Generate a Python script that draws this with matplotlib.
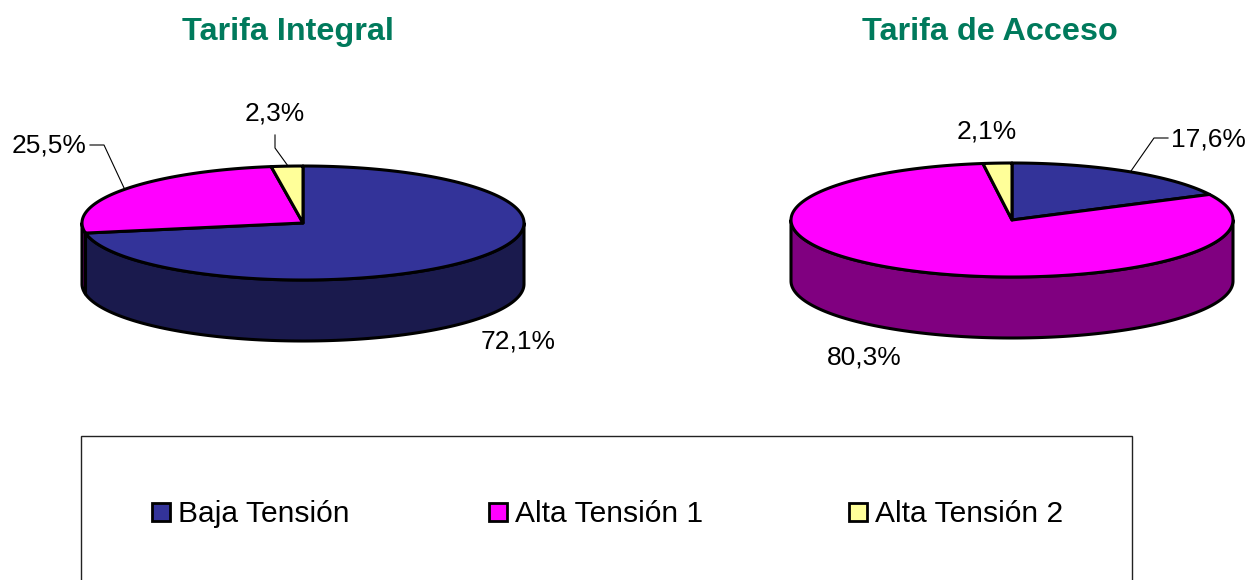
#!/usr/bin/env python3
"""Two 3D-look pie charts, Tarifa Integral / Tarifa de Acceso, with a shared legend."""

import numpy as np
import matplotlib
matplotlib.use("Agg")
import matplotlib.pyplot as plt
from matplotlib.patches import Polygon, Rectangle

plt.rcParams["font.family"] = ["Liberation Sans", "DejaVu Sans"]

categories = ["Baja Tensión", "Alta Tensión 1", "Alta Tensión 2"]
integral_values = [72.1, 25.5, 2.3]
acceso_values = [17.6, 80.3, 2.1]
integral_labels = ["72,1%", "25,5%", "2,3%"]
acceso_labels = ["17,6%", "80,3%", "2,1%"]

TOP_COLORS = ["#333399", "#FF00FF", "#FFFF99"]
SIDE_COLORS = ["#1A1A4D", "#800080", "#808050"]
TITLE_COLOR = "#007A5C"


def ellipse_points(cx, cy, rx, ry, a0, a1, n=200):
    """Points on the ellipse, angles in degrees clockwise from 12 o'clock."""
    t = np.radians(np.linspace(a0, a1, n))
    return np.column_stack([cx + rx * np.sin(t), cy - ry * np.cos(t)])


def draw_pie(ax, values, cx, cy, rx, ry, depth):
    total = sum(values)
    edges = np.concatenate([[0], np.cumsum(values) / total * 360])
    edges[-1] = 360

    # front wall: only the part of each slice between 3 and 9 o'clock shows
    for i in range(len(values)):
        a0, a1 = max(edges[i], 90), min(edges[i + 1], 270)
        if a1 <= a0:
            continue
        top = ellipse_points(cx, cy, rx, ry, a0, a1)
        bottom = top[::-1] + [0, depth]
        ax.add_patch(Polygon(np.vstack([top, bottom]), closed=True, facecolor=SIDE_COLORS[i],
                             edgecolor="black", linewidth=2.2, joinstyle="round", zorder=2))

    # top face
    for i in range(len(values)):
        arc = ellipse_points(cx, cy, rx, ry, edges[i], edges[i + 1])
        ax.add_patch(Polygon(np.vstack([[cx, cy], arc]), closed=True, facecolor=TOP_COLORS[i],
                             edgecolor="black", linewidth=2.2, joinstyle="round", zorder=3))


fig = plt.figure(figsize=(12.48, 5.8), dpi=100)
ax = fig.add_axes([0, 0, 1, 1])
ax.set_xlim(0, 1248)
ax.set_ylim(580, 0)
ax.axis("off")

draw_pie(ax, integral_values, 303, 223, 221, 57, 61)
draw_pie(ax, acceso_values, 1012, 220, 221, 57, 61)

ax.text(287.5, 32, "Tarifa Integral", fontsize=23.3, fontweight="bold", color=TITLE_COLOR,
        ha="center", va="center")
ax.text(989.5, 32, "Tarifa de Acceso", fontsize=23.3, fontweight="bold", color=TITLE_COLOR,
        ha="center", va="center")

# data labels
label_style = dict(fontsize=19, color="black", ha="center", va="center")
ax.text(518, 341, integral_labels[0], **label_style)
ax.text(49.5, 146, integral_labels[1], **label_style)
ax.text(274.5, 114, integral_labels[2], **label_style)
ax.text(1208, 139, acceso_labels[0], **label_style)
ax.text(864, 357, acceso_labels[1], **label_style)
ax.text(986.5, 131, acceso_labels[2], **label_style)

# leader lines
leaders = [
    ([90, 104, 125], [145, 145, 190]),
    ([275, 275, 288], [135, 148, 166]),
    ([1168, 1154, 1131], [138, 138, 171]),
]
for xs, ys in leaders:
    ax.plot(xs, ys, color="black", linewidth=0.8, zorder=1)

# legend box runs off the bottom of the picture
ax.add_patch(Rectangle((80.5, 436), 1051, 170, facecolor="white", edgecolor="#222222",
                       linewidth=1, clip_on=True, zorder=1))
legend_x = [152, 489, 849]
for x, name, color in zip(legend_x, categories, TOP_COLORS):
    ax.add_patch(Rectangle((x, 503), 18, 18, facecolor=color, edgecolor="black",
                           linewidth=2, zorder=3))
    ax.text(x + 26, 514, name, fontsize=21.6, color="black", ha="left", va="center", zorder=3)

fig.savefig("out.png", dpi=100, facecolor="white")
plt.close(fig)
